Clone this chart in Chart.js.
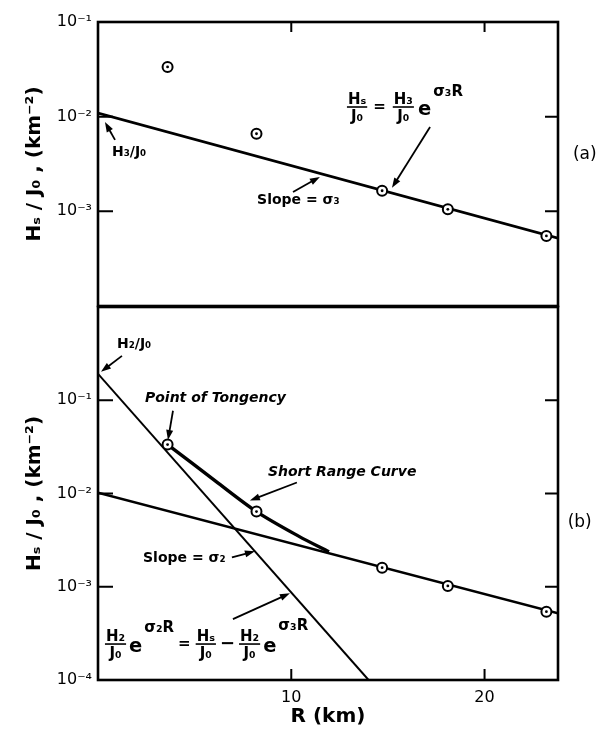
<!DOCTYPE html>
<html>
<head>
<meta charset="utf-8">
<script src="https://cdn.jsdelivr.net/npm/chart.js@4.4.0/dist/chart.umd.min.js"></script>
<style>
  body { margin: 0; background: #fff; }
  .panel { position: absolute; left: 0; }
</style>
</head>
<body>
<div class="panel" style="top:0"><canvas id="chartA" width="599" height="320"></canvas></div>
<div class="panel" style="top:300px"><canvas id="chartB" width="599" height="433"></canvas></div>
<script>
// measured points, R in km
const rKm = [3.6, 8.2, 14.7, 18.1, 23.2];
// Hs/Jo (a) and panel (b)
const hsA = [0.0335, 0.0066, 0.00165, 0.00105, 0.00055];
const hsB = [0.0335, 0.0064, 0.00160, 0.00102, 0.00054];

// long range fit (slope sigma3), ends of the line
const sigma3R = [0, 23.8];
const sigma3A = [0.0109, 0.00052];
const sigma3B = [0.0102, 0.00052];

// short range fit (slope sigma2)
const sigma2R = [0, 14.0];
const sigma2B = [0.192, 0.0001];

// short range curve through the first two points
const shortR = [3.6, 6.1, 8.2, 10.4, 11.95];
const shortB = [0.0335, 0.0135, 0.0064, 0.00347, 0.00237];

// axis ticks
const xTicks = [10, 20];
const xLabels = ['10', '20'];
const yTicksA = [1e-1, 1e-2, 1e-3];
const yLabelsA = ['10⁻¹', '10⁻²', '10⁻³'];
const yTicksB = [1e-1, 1e-2, 1e-3, 1e-4];
const yLabelsB = ['10⁻¹', '10⁻²', '10⁻³', '10⁻⁴'];

Chart.defaults.font.family = "'DejaVu Sans', sans-serif";
Chart.defaults.color = '#000';

const FONT = "'DejaVu Sans', sans-serif";

function pts(xs, ys) {
  return xs.map((x, i) => ({ x: x, y: ys[i] }));
}

// box round the plot and inward tick marks
const framePlugin = {
  id: 'frame',
  afterDatasetsDraw(chart, args, opts) {
    const { ctx, chartArea: a, scales } = chart;
    ctx.save();
    ctx.strokeStyle = '#000';
    ctx.lineWidth = 2.6;
    ctx.strokeRect(a.left, a.top, a.right - a.left, a.bottom - a.top);
    ctx.lineWidth = 2;
    ctx.beginPath();
    opts.yTicks.forEach((v) => {
      const y = scales.y.getPixelForValue(v);
      ctx.moveTo(a.left, y); ctx.lineTo(a.left + 15, y);
      ctx.moveTo(a.right - 13, y); ctx.lineTo(a.right, y);
    });
    xTicks.forEach((v) => {
      const x = scales.x.getPixelForValue(v);
      if (opts.top) { ctx.moveTo(x, a.top); ctx.lineTo(x, a.top + 10); }
      if (opts.bottom) { ctx.moveTo(x, a.bottom - 11); ctx.lineTo(x, a.bottom); }
    });
    ctx.stroke();
    ctx.restore();
  }
};

// formulas: fractions, plain bits and raised bits, left to right
function drawRich(ctx, x, y, parts, size) {
  parts.forEach((p) => {
    if (p.frac) {
      ctx.font = `bold ${size}px ${FONT}`;
      const w = Math.max(ctx.measureText(p.frac[0]).width, ctx.measureText(p.frac[1]).width) + 2;
      ctx.textAlign = 'center';
      ctx.textBaseline = 'alphabetic';
      ctx.fillText(p.frac[0], x + w / 2, y - 3);
      ctx.fillText(p.frac[1], x + w / 2, y + size * 0.8 + 2);
      ctx.lineWidth = 1.6;
      ctx.beginPath(); ctx.moveTo(x, y); ctx.lineTo(x + w, y); ctx.stroke();
      x += w + (p.gap || 2);
    } else {
      const s = size * (p.s || 1);
      ctx.font = `bold ${s}px ${FONT}`;
      ctx.textAlign = 'left';
      ctx.textBaseline = 'middle';
      ctx.fillText(p.t, x, y + (p.dy || 0));
      x += ctx.measureText(p.t).width + (p.gap || 1);
    }
  });
}

function drawArrow(ctx, x1, y1, x2, y2) {
  const ang = Math.atan2(y2 - y1, x2 - x1);
  const len = 10, half = 3.5;
  ctx.lineWidth = 1.8;
  ctx.beginPath();
  ctx.moveTo(x1, y1);
  ctx.lineTo(x2 - Math.cos(ang) * len * 0.8, y2 - Math.sin(ang) * len * 0.8);
  ctx.stroke();
  ctx.beginPath();
  ctx.moveTo(x2, y2);
  ctx.lineTo(x2 - Math.cos(ang) * len - Math.sin(ang) * half, y2 - Math.sin(ang) * len + Math.cos(ang) * half);
  ctx.lineTo(x2 - Math.cos(ang) * len + Math.sin(ang) * half, y2 - Math.sin(ang) * len - Math.cos(ang) * half);
  ctx.closePath();
  ctx.fill();
}

// labels and arrows, anchored in data coordinates
const notesPlugin = {
  id: 'notes',
  afterDraw(chart, args, opts) {
    const { ctx, scales } = chart;
    const px = (p) => [scales.x.getPixelForValue(p[0]), scales.y.getPixelForValue(p[1])];
    ctx.save();
    ctx.fillStyle = '#000';
    ctx.strokeStyle = '#000';
    opts.items.forEach((n) => {
      if (n.arrow) {
        const a = px(n.arrow[0]), b = px(n.arrow[1]);
        drawArrow(ctx, a[0], a[1], b[0], b[1]);
      } else if (n.rich) {
        const a = px(n.at);
        drawRich(ctx, a[0], a[1], n.rich, n.size || 14);
      } else {
        const a = px(n.at);
        ctx.font = n.font || `bold 14px ${FONT}`;
        ctx.textAlign = 'left';
        ctx.textBaseline = 'middle';
        ctx.fillText(n.text, a[0], a[1]);
      }
    });
    ctx.restore();
  }
};

function yAxis(min, max, ticks, labels) {
  return {
    type: 'logarithmic',
    min: min,
    max: max,
    grid: { display: false, drawTicks: false },
    border: { display: false },
    afterBuildTicks: (s) => { s.ticks = ticks.map((v) => ({ value: v })); },
    afterFit: (s) => { s.width = 98; s.paddingTop = 0; s.paddingBottom = 0; },
    ticks: {
      autoSkip: false,
      padding: 6,
      font: { size: 16 },
      callback: (v) => { const i = ticks.indexOf(v); return i < 0 ? '' : labels[i]; }
    },
    title: {
      display: true,
      text: 'Hₛ / J₀ , (km⁻²)',
      font: { size: 20, weight: 'bold' },
      padding: { top: 23, bottom: 0 }
    }
  };
}

function pointSets(ys) {
  return [
    { data: pts(rKm, ys), showLine: false, pointRadius: 1.4, pointBackgroundColor: '#000', pointBorderWidth: 0 },
    { data: pts(rKm, ys), showLine: false, pointRadius: 5, pointBackgroundColor: '#fff', pointBorderColor: '#000', pointBorderWidth: 2 }
  ];
}

function lineSet(xs, ys, w, tension) {
  return { data: pts(xs, ys), showLine: true, borderColor: '#000', borderWidth: w, pointRadius: 0, tension: tension || 0 };
}

const common = {
  responsive: false,
  animation: false,
  devicePixelRatio: 1,
  plugins: { legend: { display: false }, tooltip: { enabled: false } }
};

new Chart(document.getElementById('chartA'), {
  type: 'scatter',
  data: {
    datasets: pointSets(hsA).concat([lineSet(sigma3R, sigma3A, 2.6)])
  },
  options: Object.assign({}, common, {
    layout: { padding: { left: 0, right: 41, top: 22, bottom: 14 } },
    scales: {
      x: { type: 'linear', min: 0, max: 23.8, display: false },
      y: yAxis(1e-4, 1e-1, yTicksA, yLabelsA)
    },
    plugins: Object.assign({}, common.plugins, {
      frame: { yTicks: [1e-2, 1e-3], top: true, bottom: false },
      notes: {
        items: [
          { text: 'H₃/J₀', at: [0.72, 4.24e-3] },
          { arrow: [[0.88, 5.68e-3], [0.36, 8.79e-3]] },
          { text: 'Slope = σ₃', at: [8.23, 1.32e-3] },
          { arrow: [[10.09, 1.6e-3], [11.48, 2.31e-3]] },
          { rich: [
            { frac: ['Hₛ', 'J₀'], gap: 6 }, { t: '=', gap: 7 },
            { frac: ['H₃', 'J₀'], gap: 4 }, { t: 'e', s: 1.3, dy: 3, gap: 2 },
            { t: 'σ₃R', s: 1.0, dy: -15 }
          ], size: 15, at: [12.88, 0.01265] },
          { arrow: [[17.18, 7.78e-3], [15.21, 1.77e-3]] },
          { text: '(a)', at: [24.57, 3.94e-3], font: `17px ${FONT}` }
        ]
      }
    })
  }),
  plugins: [framePlugin, notesPlugin]
});

new Chart(document.getElementById('chartB'), {
  type: 'scatter',
  data: {
    datasets: pointSets(hsB).concat([
      lineSet(sigma3R, sigma3B, 2.6),
      lineSet(sigma2R, sigma2B, 2),
      lineSet(shortR, shortB, 3.4, 0.3)
    ])
  },
  options: Object.assign({}, common, {
    layout: { padding: { left: 0, right: 41, top: 6, bottom: 0 } },
    scales: {
      x: {
        type: 'linear',
        min: 0,
        max: 23.8,
        grid: { display: false, drawTicks: false },
        border: { display: false },
        afterBuildTicks: (s) => { s.ticks = xTicks.map((v) => ({ value: v })); },
        afterFit: (s) => { s.height = 53; s.paddingLeft = 0; s.paddingRight = 0; },
        ticks: {
          padding: 8,
          font: { size: 16 },
          callback: (v) => { const i = xTicks.indexOf(v); return i < 0 ? '' : xLabels[i]; }
        },
        title: {
          display: true,
          text: 'R (km)',
          font: { size: 20, weight: 'bold' },
          padding: { top: 0, bottom: 4 }
        }
      },
      y: yAxis(1e-4, 1, yTicksB, yLabelsB)
    },
    plugins: Object.assign({}, common.plugins, {
      frame: { yTicks: [1e-1, 1e-2, 1e-3], top: false, bottom: true },
      notes: {
        items: [
          { text: 'H₂/J₀', at: [0.98, 0.402] },
          { arrow: [[1.24, 0.299], [0.155, 0.2018]] },
          { text: 'Point of Tongency', at: [2.43, 0.1038], font: `italic bold 14px ${FONT}` },
          { arrow: [[3.88, 0.0772], [3.62, 0.0375]] },
          { text: 'Short Range Curve', at: [8.79, 0.0168], font: `italic bold 14px ${FONT}` },
          { arrow: [[10.29, 0.01312], [7.86, 8.41e-3]] },
          { text: 'Slope = σ₂', at: [2.33, 2.02e-3] },
          { arrow: [[6.93, 2.07e-3], [8.12, 2.40e-3]] },
          { rich: [
            { frac: ['H₂', 'J₀'], gap: 3 }, { t: 'e', s: 1.3, dy: 3, gap: 2 },
            { t: 'σ₂R', s: 1.0, dy: -16, gap: 4 }, { t: '=', gap: 5 },
            { frac: ['Hₛ', 'J₀'], gap: 4 }, { t: '−', s: 1.2, gap: 4 },
            { frac: ['H₂', 'J₀'], gap: 3 }, { t: 'e', s: 1.3, dy: 3, gap: 2 },
            { t: 'σ₃R', s: 1.0, dy: -18 }
          ], size: 15, at: [0.36, 2.43e-4] },
          { arrow: [[6.98, 4.49e-4], [9.93, 8.51e-4]] },
          { text: '(b)', at: [24.3, 4.9e-3], font: `17px ${FONT}` }
        ]
      }
    })
  }),
  plugins: [framePlugin, notesPlugin]
});
</script>
</body>
</html>
